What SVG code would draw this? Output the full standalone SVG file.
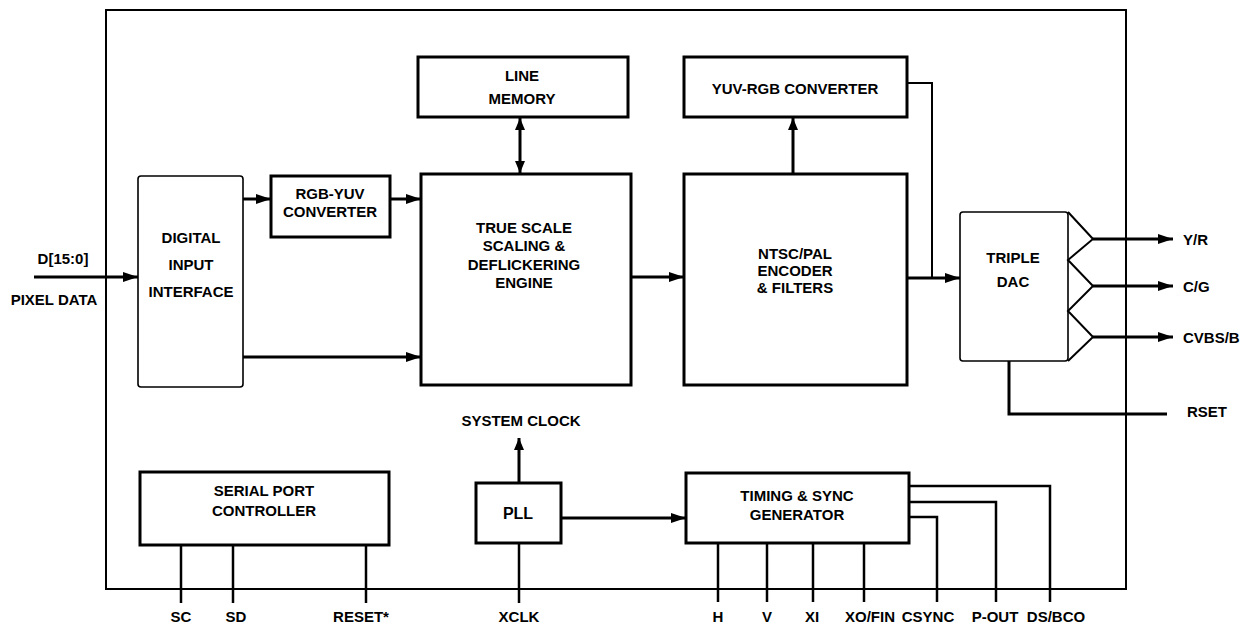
<svg xmlns="http://www.w3.org/2000/svg" width="1250" height="626" viewBox="0 0 1250 626">
<defs>
<marker id="ah" markerUnits="userSpaceOnUse" markerWidth="16" markerHeight="10" refX="15" refY="5" orient="auto"><path d="M0,0 L15,5 L0,10 z" fill="#000"/></marker>
<marker id="ahs" markerUnits="userSpaceOnUse" markerWidth="13" markerHeight="10" refX="12" refY="5" orient="auto-start-reverse"><path d="M0,0 L12,5 L0,10 z" fill="#000"/></marker>
</defs>
<style>
text{font-family:"Liberation Sans",Arial,sans-serif;font-weight:bold;font-size:15px;fill:#000;text-anchor:middle}
.b{fill:#fff;stroke:#000;stroke-width:3}
.r{fill:#fff;stroke:#000;stroke-width:1.6}
.c{fill:none;stroke:#000;stroke-width:3}
.p{fill:none;stroke:#000;stroke-width:2.5}
.t{fill:none;stroke:#000;stroke-width:2}
.l{text-anchor:start}
</style>
<rect width="1250" height="626" fill="#fff"/>
<rect id="frame" x="106" y="10" width="1020" height="579" fill="none" stroke="#000" stroke-width="2"/>
<g id="connectors">
<line class="c" x1="34" y1="277" x2="138" y2="277" marker-end="url(#ah)"/>
<line class="c" x1="243" y1="199" x2="271" y2="199" marker-end="url(#ah)"/>
<line class="c" x1="390" y1="199" x2="421" y2="199" marker-end="url(#ah)"/>
<line class="c" x1="243" y1="357" x2="421" y2="357" marker-end="url(#ah)"/>
<line class="c" x1="520" y1="118" x2="520" y2="173" marker-start="url(#ahs)" marker-end="url(#ahs)"/>
<line class="c" x1="631" y1="277" x2="684" y2="277" marker-end="url(#ah)"/>
<line class="c" x1="793" y1="174" x2="793" y2="118" marker-end="url(#ahs)"/>
<polyline class="t" points="907,83 932,83 932,278"/>
<line class="c" x1="907" y1="278" x2="960" y2="278" marker-end="url(#ah)"/>
<line class="c" x1="1093" y1="239" x2="1173" y2="239" marker-end="url(#ah)"/>
<line class="c" x1="1093" y1="286" x2="1173" y2="286" marker-end="url(#ah)"/>
<line class="c" x1="1093" y1="337" x2="1173" y2="337" marker-end="url(#ah)"/>
<polyline class="c" points="1009,361 1009,414 1167,414"/>
<line class="c" x1="519" y1="483" x2="519" y2="438" marker-end="url(#ahs)"/>
<line class="c" x1="561" y1="518" x2="686" y2="518" marker-end="url(#ah)"/>
<line class="p" x1="181" y1="545" x2="181" y2="603"/>
<line class="p" x1="233" y1="545" x2="233" y2="603"/>
<line class="p" x1="366" y1="545" x2="366" y2="603"/>
<line class="p" x1="519" y1="543" x2="519" y2="603"/>
<line class="p" x1="718" y1="543" x2="718" y2="602"/>
<line class="p" x1="767" y1="543" x2="767" y2="602"/>
<line class="p" x1="813" y1="543" x2="813" y2="602"/>
<line class="p" x1="864" y1="543" x2="864" y2="602"/>
<polyline class="p" points="909,517 937,517 937,602"/>
<polyline class="p" points="909,502 996,502 996,602"/>
<polyline class="p" points="909,486 1050,486 1050,602"/>
</g>
<g id="dii"><rect class="r" x="138" y="176" width="105" height="211" rx="3"/><text x="191" y="243">DIGITAL</text><text x="191" y="270">INPUT</text><text x="191" y="297">INTERFACE</text></g>
<g id="rgbyuv"><rect class="b" x="271" y="176" width="119" height="61"/><text x="330" y="199">RGB-YUV</text><text x="330" y="217">CONVERTER</text></g>
<g id="linemem"><rect class="b" x="418" y="57" width="210" height="60"/><text x="522" y="81">LINE</text><text x="522" y="104">MEMORY</text></g>
<g id="truescale"><rect class="b" x="421" y="174" width="210" height="211"/><text x="524" y="233">TRUE SCALE</text><text x="524" y="251">SCALING &amp;</text><text x="524" y="270">DEFLICKERING</text><text x="524" y="288">ENGINE</text></g>
<g id="yuvrgb"><rect class="b" x="684" y="57" width="223" height="60"/><text x="795" y="94">YUV-RGB CONVERTER</text></g>
<g id="ntsc"><rect class="b" x="684" y="174" width="223" height="211"/><text x="795" y="259">NTSC/PAL</text><text x="795" y="276">ENCODER</text><text x="795" y="293">&amp; FILTERS</text></g>
<g id="dac"><rect class="r" x="960" y="212" width="108" height="149" rx="3"/><polyline class="t" points="1068,212 1093,239 1068,260 1093,286 1068,311 1093,337 1068,361"/><text x="1013" y="263">TRIPLE</text><text x="1013" y="287">DAC</text></g>
<g id="serial"><rect class="b" x="140" y="472" width="249" height="73"/><text x="264" y="496">SERIAL PORT</text><text x="264" y="516">CONTROLLER</text></g>
<g id="pll"><rect class="b" x="476" y="483" width="85" height="60"/><text x="518" y="519" style="font-size:16px">PLL</text></g>
<g id="timing"><rect class="b" x="686" y="473" width="223" height="70"/><text x="797" y="501">TIMING &amp; SYNC</text><text x="797" y="520">GENERATOR</text></g>
<g id="labels">
<text x="63" y="264">D[15:0]</text>
<text x="54" y="305">PIXEL DATA</text>
<text class="l" x="1183" y="245">Y/R</text>
<text class="l" x="1183" y="292">C/G</text>
<text class="l" x="1183" y="343">CVBS/B</text>
<text class="l" x="1187" y="417">RSET</text>
<text x="521" y="426">SYSTEM CLOCK</text>
<text x="181" y="622">SC</text>
<text x="236" y="622">SD</text>
<text x="361" y="622">RESET*</text>
<text x="519" y="622">XCLK</text>
<text x="718" y="622">H</text>
<text x="767" y="622">V</text>
<text x="812" y="622">XI</text>
<text x="870" y="622">XO/FIN</text>
<text x="928" y="622">CSYNC</text>
<text x="995" y="622">P-OUT</text>
<text x="1056" y="622">DS/BCO</text>
</g>
</svg>
